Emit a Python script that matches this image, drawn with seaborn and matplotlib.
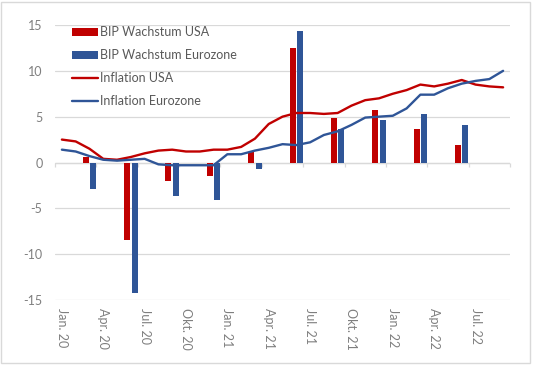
import matplotlib
matplotlib.use('Agg')
import matplotlib.pyplot as plt
import matplotlib.markers as mmarkers
from matplotlib.patches import Patch, Rectangle
from matplotlib.lines import Line2D
import numpy as np
import pandas as pd
import seaborn as sns

# monthly axis: Jan 2020 - Sep 2022
months = list(pd.date_range('2020-01-01', '2022-09-01', freq='MS').strftime('%Y-%m'))
tick_labels = ['Jan. 20', 'Apr. 20', 'Jul. 20', 'Okt. 20', 'Jan. 21', 'Apr. 21',
               'Jul. 21', 'Okt. 21', 'Jan. 22', 'Apr. 22', 'Jul. 22']

inflation_usa = [2.5, 2.3, 1.5, 0.4, 0.3, 0.6, 1.0, 1.3, 1.4, 1.2, 1.2, 1.4,
                 1.4, 1.7, 2.6, 4.2, 5.0, 5.4, 5.4, 5.3, 5.4, 6.2, 6.8, 7.0,
                 7.5, 7.9, 8.5, 8.3, 8.6, 9.0, 8.5, 8.3, 8.2]
inflation_ez = [1.4, 1.2, 0.7, 0.3, 0.2, 0.3, 0.4, -0.2, -0.3, -0.3, -0.3, -0.3,
                0.9, 0.9, 1.3, 1.6, 2.0, 1.9, 2.2, 3.0, 3.4, 4.1, 4.9, 5.0,
                5.1, 5.9, 7.4, 7.4, 8.1, 8.6, 8.9, 9.1, 10.0]

# quarterly GDP growth (yoy), plotted in the last month of each quarter
gdp_months = ['2020-03', '2020-06', '2020-09', '2020-12', '2021-03', '2021-06',
              '2021-09', '2021-12', '2022-03', '2022-06']
gdp_usa = [0.6, -8.4, -2.0, -1.5, 1.1, 12.5, 4.9, 5.7, 3.7, 1.9]
gdp_ez = [-2.9, -14.2, -3.7, -4.1, -0.7, 14.4, 3.7, 4.6, 5.3, 4.1]

RED = '#C00000'
BLUE = '#2F5597'
GRID = '#D9D9D9'
TXT = '#7F7F7F'

sns.set_theme(style='white')
plt.rcParams['font.family'] = ['Lato', 'DejaVu Sans']
plt.rcParams['axes.unicode_minus'] = False

pos = {m: i for i, m in enumerate(months)}
bars = pd.DataFrame({
    'x': [pos[m] for m in gdp_months] * 2,
    'value': gdp_usa + gdp_ez,
    'series': ['BIP Wachstum USA'] * len(gdp_usa) + ['BIP Wachstum Eurozone'] * len(gdp_ez),
})
lines = pd.DataFrame({
    'x': list(range(len(months))) * 2,
    'value': inflation_usa + inflation_ez,
    'series': ['Inflation USA'] * len(months) + ['Inflation Eurozone'] * len(months),
})

fig = plt.figure(figsize=(5.33, 3.65), dpi=100)
ax = fig.add_axes([55 / 533, 65 / 365, 455 / 533, 275 / 365])

sns.barplot(data=bars, x='x', y='value', hue='series', native_scale=True,
            hue_order=['BIP Wachstum USA', 'BIP Wachstum Eurozone'],
            palette=[RED, BLUE], saturation=1, width=0.36, gap=0.2,
            errorbar=None, legend=False, ax=ax, zorder=2, linewidth=0)
sns.lineplot(data=lines, x='x', y='value', hue='series',
             hue_order=['Inflation USA', 'Inflation Eurozone'],
             palette=[RED, BLUE], linewidth=1.7, legend=False, ax=ax, zorder=3)

ax.set_xlim(-0.5, len(months) - 0.5)
ax.set_ylim(-15, 15)
ax.set_yticks(range(-15, 16, 5))
ax.set_xticks(range(0, len(months), 3))
ax.set_xticklabels(tick_labels, rotation=270)
ax.set_xlabel('')
ax.set_ylabel('')
ax.tick_params(axis='y', length=0, pad=9, labelcolor=TXT, labelsize=9)
ax.tick_params(axis='x', length=0, pad=6, labelcolor=TXT, labelsize=9)
for s in ax.spines.values():
    s.set_visible(False)
ax.yaxis.grid(True, color=GRID, linewidth=0.9)
ax.set_axisbelow(True)

# category axis line at zero with tick marks every quarter
ax.axhline(0, color=GRID, linewidth=0.9, zorder=1)
bounds = np.arange(-0.5, len(months), 3)
ax.plot(bounds, np.zeros_like(bounds), linestyle='none', marker=mmarkers.TICKDOWN,
        markersize=3, markeredgewidth=0.9, color=GRID, zorder=1, clip_on=False)

handles = [Patch(facecolor=RED, linewidth=0), Patch(facecolor=BLUE, linewidth=0),
           Line2D([], [], color=RED, linewidth=1.7),
           Line2D([], [], color=BLUE, linewidth=1.7)]
labels = ['BIP Wachstum USA', 'BIP Wachstum Eurozone', 'Inflation USA', 'Inflation Eurozone']
leg = ax.legend(handles, labels, loc='upper left', bbox_to_anchor=(0.037, 0.995),
                frameon=False, fontsize=9, handlelength=2.1, handleheight=0.7,
                handletextpad=0.15, labelspacing=0.88, borderpad=0, borderaxespad=0)
for t in leg.get_texts():
    t.set_color('#595959')

fig.patches.append(Rectangle((1 / 533, 2 / 365), 529 / 533, 361 / 365, fill=False,
                             edgecolor=GRID, linewidth=1, transform=fig.transFigure))

fig.savefig('out.png', dpi=100)
